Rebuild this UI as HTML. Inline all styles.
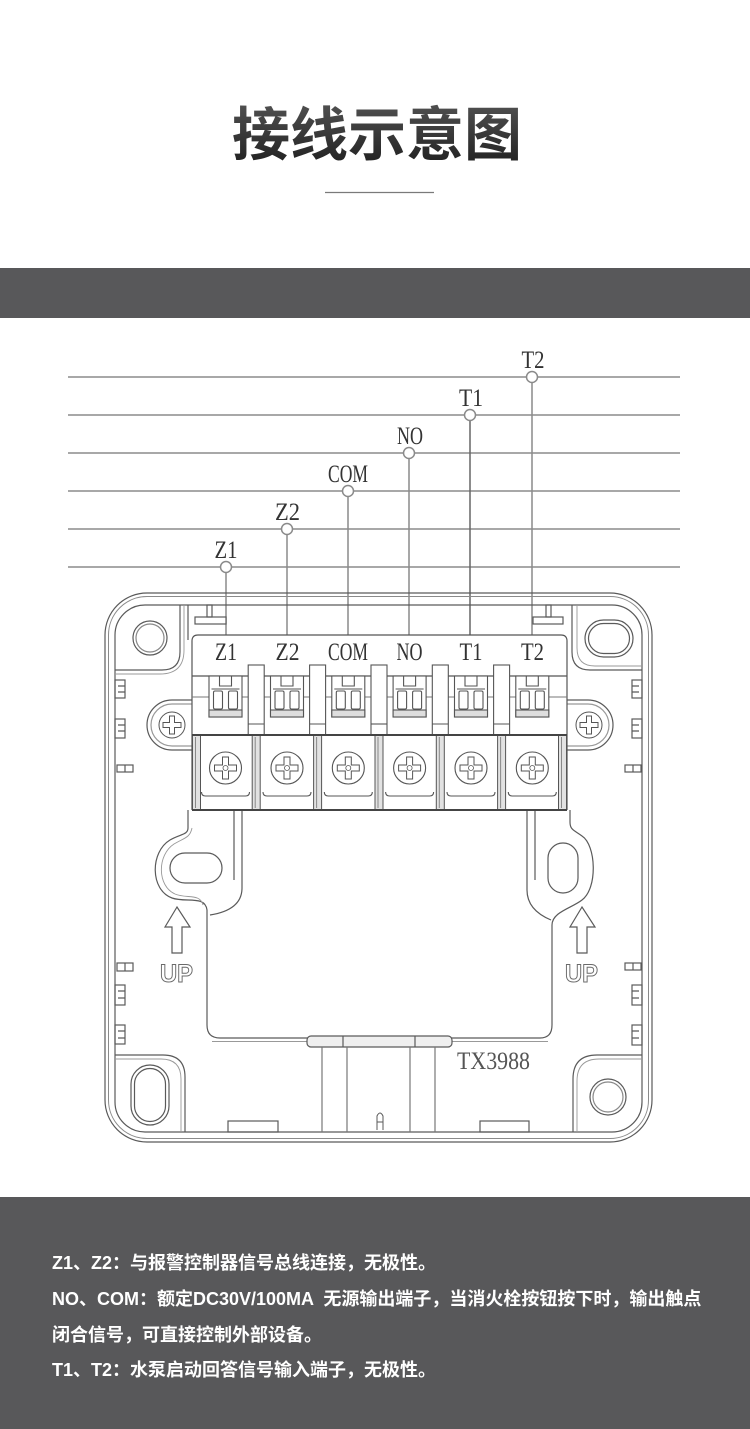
<!DOCTYPE html>
<html><head><meta charset="utf-8"><style>
html,body{margin:0;padding:0;background:#fff;}
svg{display:block;}
</style></head><body>
<svg width="750" height="1429" viewBox="0 0 750 1429" xmlns="http://www.w3.org/2000/svg">
<defs>
<linearGradient id="tg" x1="0" y1="0" x2="0" y2="1">
<stop offset="0" stop-color="#5c5c5c"/><stop offset="1" stop-color="#1c1c1c"/>
</linearGradient>
<g id="cell" fill="none" stroke="#555" stroke-width="1.1">
<rect x="-16.5" y="676" width="33" height="41" fill="#fff"/>
<rect x="-16.5" y="710" width="33" height="7" fill="#dedede"/>
<path d="M-6,676 V686 H6 V676"/>
<path d="M-14,689 H14"/>
<rect x="-12" y="691" width="9" height="18" rx="1.5"/>
<rect x="3" y="691" width="9" height="18" rx="1.5"/>
<circle cx="0" cy="768" r="16"/>
<path d="M-3,757 H3 V765 H11 V771 H3 V779 H-3 V771 H-11 V765 H-3 Z" stroke-width="1"/>
<circle cx="0" cy="768" r="2.5" stroke-width="0.8"/>
<path d="M-24,792 Q-24,796 -20,796 H20 Q24,796 24,792"/>
</g>
<g id="sep" stroke="#555" stroke-width="1">
<rect x="-4" y="735" width="8" height="75" fill="#e2e2e2"/>
<path d="M-1,737 V808" stroke="#888"/>
</g>
<g id="div" fill="#fff" stroke="#555" stroke-width="1.1">
<rect x="-8" y="665" width="16" height="70"/>
<path d="M-8,724 H8" fill="none"/>
</g>
<g id="scr" fill="none" stroke="#555" stroke-width="1">
<circle cx="0" cy="0" r="13"/>
<path d="M-2.5,-9 H2.5 V-2.5 H9 V2.5 H2.5 V9 H-2.5 V2.5 H-9 V-2.5 H-2.5 Z"/>
</g>
</defs>

<rect x="0" y="0" width="750" height="1429" fill="#fff"/>

<!-- Title -->
<text x="377" y="155" text-anchor="middle" font-family="'Noto Sans CJK SC','WenQuanYi Zen Hei',sans-serif" font-weight="700" font-size="58" fill="url(#tg)">接线示意图</text>
<line x1="325" y1="192.5" x2="434" y2="192.5" stroke="#7a7a7a" stroke-width="1.3"/>

<!-- band -->
<rect x="0" y="268" width="750" height="50" fill="#58585a"/>

<!-- wires -->
<g stroke="#9c9c9c" stroke-width="1.8">
<line x1="68" y1="377" x2="680" y2="377"/>
<line x1="68" y1="415" x2="680" y2="415"/>
<line x1="68" y1="453" x2="680" y2="453"/>
<line x1="68" y1="491" x2="680" y2="491"/>
<line x1="68" y1="529" x2="680" y2="529"/>
<line x1="68" y1="567" x2="680" y2="567"/>
</g>
<g stroke="#8a8a8a" stroke-width="1.5" fill="none">
<line x1="226" y1="573" x2="226" y2="636"/>
<line x1="287" y1="535" x2="287" y2="636"/>
<line x1="348" y1="497" x2="348" y2="636"/>
<line x1="409" y1="459" x2="409" y2="636"/>
<line x1="470" y1="421" x2="470" y2="636" stroke="#666"/>
<line x1="532" y1="383" x2="532" y2="636"/>
<circle cx="226" cy="567" r="5.5" fill="#fff"/>
<circle cx="287" cy="529" r="5.5" fill="#fff"/>
<circle cx="348" cy="491" r="5.5" fill="#fff"/>
<circle cx="409" cy="453" r="5.5" fill="#fff"/>
<circle cx="470" cy="415" r="5.5" fill="#fff"/>
<circle cx="532" cy="377" r="5.5" fill="#fff"/>
</g>
<g font-family="'Liberation Serif',serif" font-size="25" fill="#333" text-anchor="middle" lengthAdjust="spacingAndGlyphs">
<text x="226" y="558" textLength="23" lengthAdjust="spacingAndGlyphs">Z1</text>
<text x="287.5" y="520" textLength="25" lengthAdjust="spacingAndGlyphs">Z2</text>
<text x="348" y="482" textLength="40" lengthAdjust="spacingAndGlyphs">COM</text>
<text x="410" y="444" textLength="26" lengthAdjust="spacingAndGlyphs">NO</text>
<text x="471" y="406" textLength="24" lengthAdjust="spacingAndGlyphs">T1</text>
<text x="533" y="368" textLength="23" lengthAdjust="spacingAndGlyphs">T2</text>
</g>

<!-- device case -->
<g fill="none" stroke="#5a5a5a" stroke-width="1.2">
<rect x="105" y="593" width="547" height="549" rx="42"/>
<rect x="108.5" y="596.5" width="540" height="542" rx="38.5" stroke="#8a8a8a" stroke-width="1"/>
<rect x="115" y="605" width="527" height="527" rx="30"/>

<!-- top-left pocket -->
<path d="M180,605 V652 Q180,670 162,670 H115"/>
<path d="M184,605 V650 Q184,674 160,674 H115" stroke="#999" stroke-width="0.9"/>
<path d="M188,605 V640"/>
<circle cx="150" cy="638" r="17"/>
<circle cx="150" cy="638" r="14" stroke="#888"/>

<!-- top-right pocket -->
<path d="M572,605 V652 Q572,670 590,670 H642"/>
<path d="M577,605 V648 Q577,666 595,666 H642" stroke="#999" stroke-width="0.9"/>
<rect x="585" y="620" width="48" height="37" rx="18.5"/>
<rect x="588.5" y="623.5" width="41" height="30" rx="15"/>

<!-- top tabs -->
<rect x="195" y="617" width="31" height="7" fill="#fff"/>
<rect x="207" y="605" width="5" height="12"/>
<rect x="533" y="617" width="30" height="7" fill="#fff"/>
<rect x="546" y="605" width="5" height="12"/>

<!-- side slots left -->
<rect x="115" y="680" width="10" height="18"/><path d="M118,686 H125 M118,692 H125"/>
<rect x="115" y="719" width="10" height="19"/><path d="M118,725 H125 M118,731 H125"/>
<rect x="117" y="765" width="16" height="7"/><path d="M125,765 V772"/>
<rect x="117" y="963" width="16" height="8"/><path d="M125,963 V971"/>
<rect x="115" y="985" width="10" height="20"/><path d="M118,991 H125 M118,998 H125"/>
<rect x="115" y="1025" width="10" height="19"/><path d="M118,1031 H125 M118,1038 H125"/>
<!-- side slots right -->
<rect x="632" y="680" width="10" height="18"/><path d="M632,686 H639 M632,692 H639"/>
<rect x="632" y="719" width="10" height="19"/><path d="M632,725 H639 M632,731 H639"/>
<rect x="625" y="765" width="16" height="7"/><path d="M633,765 V772"/>
<rect x="625" y="963" width="16" height="7"/><path d="M633,963 V970"/>
<rect x="632" y="985" width="10" height="20"/><path d="M632,991 H639 M632,998 H639"/>
<rect x="632" y="1025" width="10" height="20"/><path d="M632,1031 H639 M632,1038 H639"/>

<!-- ears -->
<path d="M192,700 H172 A25,25 0 0 0 172,750 H192" fill="#fff"/>
<path d="M192,704 H172 A21,21 0 0 0 172,746 H192" stroke="#999"/>
<path d="M567,700 H588 A25,25 0 0 1 588,750 H567" fill="#fff"/>
<path d="M567,704 H588 A21,21 0 0 1 588,746 H567" stroke="#999"/>

<!-- window below block -->
<path d="M188,810 V828 C188,835 180,834 170,840 C150,852 150,890 172,898 C186,903 205,895 207,910 V1025 Q207,1038 220,1038 H540 Q552,1038 552,1025 V925 C552,912 572,908 582,900 C598,888 596,845 582,836 C574,830 570,830 570,822 V810"/>
<path d="M192,828 C190,838 184,838 174,844 C157,855 157,886 175,894 C187,899 200,893 203,905" stroke="#999" stroke-width="0.9"/>
<path d="M234,810 V880"/>
<path d="M242,810 V888 Q242,910 210,915"/>
<path d="M527,810 V890 Q527,910 551,920"/>
<path d="M535,810 V880"/>
<path d="M212,1041.5 H548" stroke="#999" stroke-width="0.9"/>
<rect x="170" y="853" width="52" height="30" rx="15"/>
<rect x="548" y="843" width="30" height="50" rx="15"/>

<!-- UP arrows -->
<path d="M177,907 L165,927 H172 V953 H182 V927 H190 Z"/>
<path d="M582,907 L570,927 H577 V953 H587 V927 H595 Z"/>

<!-- bottom pockets -->
<path d="M115,1055 H163 Q185,1055 185,1077 V1132"/>
<path d="M115,1059 H161 Q181,1059 181,1079 V1132" stroke="#999" stroke-width="0.9"/>
<rect x="131" y="1065" width="38" height="60" rx="19"/>
<rect x="134.5" y="1068.5" width="31" height="53" rx="15.5"/>
<path d="M642,1055 H597 Q573,1055 573,1079 V1132"/>
<path d="M642,1059 H599 Q577,1059 577,1081 V1132" stroke="#999" stroke-width="0.9"/>
<circle cx="608" cy="1097" r="18"/>
<circle cx="608" cy="1097" r="15" stroke="#888"/>

<!-- bottom tabs -->
<rect x="228" y="1121" width="50" height="11"/>
<rect x="480" y="1121" width="49" height="11"/>

<!-- bottom center -->
<rect x="307" y="1036" width="145" height="11" rx="4" fill="#efefef"/>
<path d="M343,1036 V1047 M415,1036 V1047"/>
<path d="M322,1047 V1132 M347,1047 V1132 M410,1047 V1132 M435,1047 V1132" stroke="#777"/>
<path d="M377,1130 V1116 Q380,1110 383,1116 V1130 M377,1122 H383" stroke-width="1"/>
</g>

<!-- UP text -->
<g font-family="'Liberation Sans',sans-serif" font-weight="bold" font-size="25" fill="#fff" stroke="#6a6a6a" stroke-width="1">
<text x="160" y="982" textLength="33" lengthAdjust="spacingAndGlyphs">UP</text>
<text x="565" y="982" textLength="33" lengthAdjust="spacingAndGlyphs">UP</text>
</g>
<text x="457" y="1069" font-family="'Liberation Serif',serif" font-size="25" fill="#555" textLength="73" lengthAdjust="spacingAndGlyphs">TX3988</text>

<!-- terminal block -->
<g fill="none" stroke="#555" stroke-width="1.2">
<path d="M192,810 V641 Q192,635 198,635 H561 Q567,635 567,641 V810" fill="#fff"/>
<path d="M192,676 H567"/>
<path d="M192,697 H567" stroke="#777" stroke-width="1"/>
</g>
<use href="#cell" x="225.5"/>
<use href="#cell" x="287"/>
<use href="#cell" x="348.3"/>
<use href="#cell" x="409.6"/>
<use href="#cell" x="471"/>
<use href="#cell" x="532.3"/>
<use href="#div" x="256.2"/>
<use href="#div" x="317.6"/>
<use href="#div" x="379"/>
<use href="#div" x="440.3"/>
<use href="#div" x="501.6"/>
<use href="#sep" x="196.5"/>
<use href="#sep" x="256.2"/>
<use href="#sep" x="317.6"/>
<use href="#sep" x="379"/>
<use href="#sep" x="440.3"/>
<use href="#sep" x="501.6"/>
<use href="#sep" x="562.5"/>
<g stroke="#444" stroke-width="2" fill="none">
<path d="M192,735 H567"/>
<path d="M192,810 H567"/>
</g>
<use href="#scr" x="172" y="725"/>
<use href="#scr" x="589" y="725"/>
<g font-family="'Liberation Serif',serif" font-size="25" fill="#333" text-anchor="middle">
<text x="226" y="660" textLength="22" lengthAdjust="spacingAndGlyphs">Z1</text>
<text x="287.5" y="660" textLength="24" lengthAdjust="spacingAndGlyphs">Z2</text>
<text x="348" y="660" textLength="40" lengthAdjust="spacingAndGlyphs">COM</text>
<text x="409.5" y="660" textLength="26" lengthAdjust="spacingAndGlyphs">NO</text>
<text x="471" y="660" textLength="23" lengthAdjust="spacingAndGlyphs">T1</text>
<text x="532.5" y="660" textLength="23" lengthAdjust="spacingAndGlyphs">T2</text>
</g>

<!-- bottom panel -->
<rect x="0" y="1197" width="750" height="232" fill="#58585a"/>
<g font-family="'Liberation Sans','Noto Sans CJK SC',sans-serif" font-weight="bold" font-size="18" fill="#fff">
<text x="52" y="1269">Z1、Z2：与报警控制器信号总线连接，无极性。</text>
<text x="52" y="1305" xml:space="preserve">NO、COM：额定DC30V/100MA  无源输出端子，当消火栓按钮按下时，输出触点</text>
<text x="52" y="1341">闭合信号，可直接控制外部设备。</text>
<text x="52" y="1376">T1、T2：水泵启动回答信号输入端子，无极性。</text>
</g>
</svg>
</body></html>
